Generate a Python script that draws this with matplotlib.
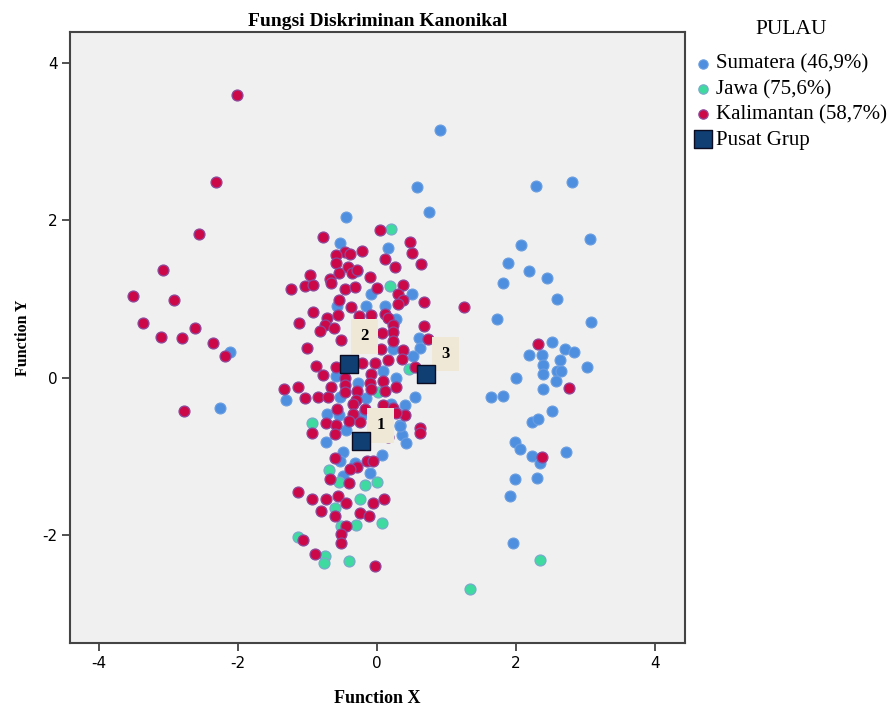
import matplotlib
matplotlib.use("Agg")
import matplotlib.pyplot as plt

plt.rcParams["axes.unicode_minus"] = False

# ---------------- data ----------------
sumatera_x = [-2.11, -2.26, -1.31,
              0.91, 0.58, 0.75, -0.45, -0.53, 0.16, -0.29,
              -0.08, 0.50, -0.58, -0.15, 0.12, 0.28, 0.60, 0.23, 0.62, 0.52,
              0.09, -0.59, -0.27, 0.28, -0.53, -0.16, 0.55, 0.21, 0.40, -0.72,
              -0.54, -0.22, 0.33, -0.44, 0.36, 0.42, -0.73, -0.49, -0.53, 0.08,
              -0.32, -0.10, -0.49, 0.34,
              2.29, 2.81, 3.07, 2.07, 1.89, 2.19, 2.45, 1.82, 2.59, 1.73,
              3.09, 2.52, 2.19, 2.38, 2.71, 2.84, 2.64, 2.39, 2.40, 2.59,
              2.65, 2.58, 3.03, 2.01, 2.39, 1.64, 1.82, 2.52, 2.24, 2.32,
              1.99, 2.06, 2.24, 2.35, 2.72, 1.99, 2.31, 1.92, 1.96]
sumatera_y = [0.33, -0.39, -0.29,
              3.14, 2.42, 2.11, 2.04, 1.71, 1.65, 1.35,
              1.06, 1.06, 0.91, 0.91, 0.91, 0.74, 0.50, 0.36, 0.38, 0.27,
              0.08, 0.02, -0.07, 0.00, -0.24, -0.26, -0.24, -0.34, -0.35, -0.46,
              -0.47, -0.47, -0.60, -0.67, -0.73, -0.83, -0.82, -0.94, -1.06, -0.98,
              -1.09, -1.21, -1.25, -0.62,
              2.43, 2.48, 1.76, 1.68, 1.46, 1.35, 1.27, 1.20, 1.00, 0.75,
              0.71, 0.45, 0.29, 0.29, 0.36, 0.33, 0.23, 0.16, 0.05, 0.08,
              0.09, -0.04, 0.13, 0.00, -0.15, -0.25, -0.23, -0.42, -0.56, -0.53,
              -0.82, -0.91, -1.00, -1.09, -0.94, -1.29, -1.27, -1.50, -2.10]

jawa_x = [0.21, 0.19, 0.47, 0.02, -0.93, -0.69, -0.54, -0.17, 0.00, -0.24,
          -0.61, 0.07, -0.30, -0.51, -1.13, -0.75, -0.76, -0.40, 2.35, 1.34]
jawa_y = [1.89, 1.16, 0.11, -0.18, -0.57, -1.17, -1.32, -1.36, -1.32, -1.54,
          -1.65, -1.84, -1.87, -1.89, -2.03, -2.27, -2.36, -2.33, -2.32, -2.68]

kalimantan_x = [-2.02, -2.31, -2.56, -3.08, -3.51, -2.92, -3.37, -2.62, -3.11, -2.81,
                -2.36, -2.19, -2.78,
                2.32, 2.77, 2.38, 1.26,
                0.04, -0.77, 0.48, 0.51, -0.46, -0.39, -0.21, -0.59, -0.59, 0.12,
                0.26, 0.63, -0.54, -0.41, -0.36, -0.28, -0.97, -0.10, -0.67,
                -1.23, -1.04, -0.92, -0.66, -0.46, -0.32, 0.00, 0.37, 0.31, 0.37,
                0.31, 0.68, -0.55, -0.37, -0.92, -0.72, -0.56, -0.26, -0.08, 0.12,
                0.16, -1.12, -0.75, -0.82, -0.62, 0.23, 0.68, 0.23, 0.07, 0.74,
                -0.51, 0.23, -1.00, 0.06, 0.37,
                -0.88, -0.59, -0.22, -0.03, 0.16, 0.36, 0.55, -0.09, -0.46, -0.78,
                -0.10, 0.09, 0.27, -1.13, -1.34, -0.66, -0.46, -0.28, -0.08, 0.12,
                -1.03, -0.85, -0.70, -0.46, -0.30, -0.34, -0.58, -0.17, 0.09, 0.23,
                -0.34, 0.40, 0.27, -0.73, -0.59, -0.40, -0.24, 0.62,
                -0.94, -0.61, 0.16, 0.62, -0.61, -0.14, -0.05, -0.29, -0.38, -0.67,
                -0.40, -1.13, -0.93, -0.73, -0.56, -0.45, -0.05, 0.10,
                -0.81, -0.61, -0.24, -0.12, -0.44, -0.51, -0.52, -1.06, -0.89, -0.03]
kalimantan_y = [3.59, 2.48, 1.83, 1.37, 1.04, 0.99, 0.70, 0.63, 0.52, 0.51,
                0.44, 0.28, -0.42,
                0.43, -0.13, -1.01, 0.90,
                1.87, 1.79, 1.72, 1.58, 1.60, 1.57, 1.61, 1.56, 1.46, 1.51,
                1.41, 1.44, 1.33, 1.40, 1.33, 1.37, 1.31, 1.28, 1.25,
                1.13, 1.16, 1.18, 1.20, 1.12, 1.15, 1.14, 1.18, 1.06, 0.98,
                0.93, 0.96, 0.98, 0.90, 0.83, 0.76, 0.79, 0.78, 0.79, 0.81,
                0.76, 0.70, 0.67, 0.59, 0.63, 0.67, 0.65, 0.58, 0.57, 0.49,
                0.48, 0.47, 0.38, 0.36, 0.35,
                0.15, 0.14, 0.18, 0.19, 0.22, 0.24, 0.13, 0.05, 0.00, 0.03,
                -0.07, -0.04, -0.12, -0.12, -0.14, -0.12, -0.09, -0.17, -0.14, -0.17,
                -0.26, -0.24, -0.25, -0.18, -0.28, -0.34, -0.40, -0.40, -0.35, -0.39,
                -0.46, -0.47, -0.45, -0.57, -0.60, -0.55, -0.56, -0.64,
                -0.70, -0.71, -0.75, -0.70, -1.02, -1.06, -1.06, -1.14, -1.16, -1.29,
                -1.34, -1.45, -1.54, -1.54, -1.50, -1.59, -1.59, -1.54,
                -1.69, -1.76, -1.72, -1.76, -1.89, -1.99, -2.10, -2.06, -2.24, -2.39]

centroid_labels = ["1", "2", "3"]
centroid_x = [-0.23, -0.40, 0.71]
centroid_y = [-0.80, 0.17, 0.05]

legend_title = "PULAU"
legend_labels = ["Sumatera (46,9%)", "Jawa (75,6%)", "Kalimantan (58,7%)", "Pusat Grup"]
x_ticks = [-4, -2, 0, 2, 4]
y_ticks = [-2, 0, 2, 4]

# ---------------- figure ----------------
serif = ["Liberation Serif", "DejaVu Serif"]
fig = plt.figure(figsize=(8.93, 7.08), dpi=100)
ax = fig.add_axes([0.0784, 0.0918, 0.6888, 0.863])
ax.set_facecolor("#f0f0f0")

ms = 62
ax.scatter(sumatera_x, sumatera_y, s=ms, c="#4f8fe0", edgecolors="#6a9ee0",
           linewidths=0.8, label=legend_labels[0], zorder=3)
ax.scatter(jawa_x, jawa_y, s=ms, c="#3fdaa0", edgecolors="#78aacb",
           linewidths=0.9, label=legend_labels[1], zorder=3)
ax.scatter(kalimantan_x, kalimantan_y, s=ms, c="#cc0848", edgecolors="#8c4a9c",
           linewidths=0.9, label=legend_labels[2], zorder=3)
ax.scatter(centroid_x, centroid_y, s=150, marker="s", c="#0f3f73",
           edgecolors="#0b0b22", linewidths=1.0, label=legend_labels[3], zorder=5)

label_offsets = {"1": (14, 11), "2": (11, 20), "3": (14, 14)}
for lab, cx, cy in zip(centroid_labels, centroid_x, centroid_y):
    ax.annotate(lab, (cx, cy), xytext=label_offsets[lab], textcoords="offset points",
                ha="center", va="center", fontsize=12, fontweight="bold",
                family=serif, zorder=4,
                bbox=dict(boxstyle="square,pad=0.55", fc="#efe8d6", ec="none"))

ax.set_xlim(-4.42, 4.44)
ax.set_ylim(-3.37, 4.39)
ax.set_xticks(x_ticks)
ax.set_yticks(y_ticks)
ax.tick_params(direction="out", length=6, width=1.2, color="#333333",
               labelsize=11, pad=3)
for lbl in ax.get_xticklabels() + ax.get_yticklabels():
    lbl.set_family(["Liberation Sans Narrow", "DejaVu Sans"])
for sp in ax.spines.values():
    sp.set_color("#444444")
    sp.set_linewidth(1.5)

ax.set_title("Fungsi Diskriminan Kanonikal", family=serif, fontweight="bold",
             fontsize=14, pad=4)
ax.set_xlabel("Function X", family=serif, fontweight="bold", fontsize=13, labelpad=14)
ax.set_ylabel("Function Y", family=serif, fontweight="bold", fontsize=11.5, labelpad=8)

leg = ax.legend(loc="upper left", bbox_to_anchor=(1.003, 0.977), frameon=False,
                prop={"family": serif, "size": 15},
                handletextpad=0.3, labelspacing=0.27, borderaxespad=0.0,
                handlelength=0.7, scatterpoints=1)
for h in leg.legend_handles[:3]:
    h.set_sizes([45])
leg.legend_handles[3].set_sizes([170])
fig.text(0.886, 0.958, legend_title, family=serif, fontsize=15.5,
         ha="center", va="center")

fig.savefig("out.png", dpi=100, facecolor="white")
